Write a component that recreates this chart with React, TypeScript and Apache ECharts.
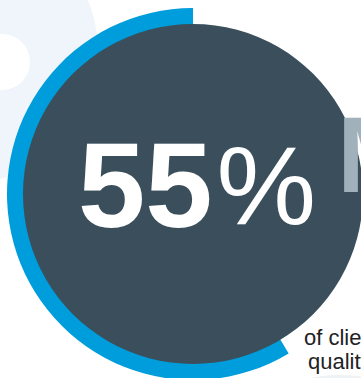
import React, { useEffect, useRef } from "react";
import * as echarts from "echarts";

// Data
const headlineValue = 55; // the printed figure, in percent
const ringCategories = ["share", "rest"];
const ringValues = [58.6, 41.4]; // share of the ring drawn in blue (as read from the arc)
const captionLines = ["of clients", "quality"];
const sideLetter = "M";

const FONT = "'Liberation Sans', Arial, Helvetica, sans-serif";
const BLUE = "#009ddc";
const DARK = "#3a4f5b";

export default function App() {
  const ref = useRef<HTMLDivElement>(null);

  useEffect(() => {
    if (!ref.current) return;
    const chart = echarts.init(ref.current, undefined, { renderer: "svg" });
    const cx = 193;
    const cy = 194;
    chart.setOption({
      animation: false,
      backgroundColor: "#ffffff",
      graphic: [
        { type: "circle", z: 0, shape: { cx: -35, cy: 51, r: 133 }, style: { fill: "#eff5fa" } },
        { type: "circle", z: 0, shape: { cx: 2, cy: 62, r: 28 }, style: { fill: "#ffffff" } },
        { type: "circle", z: 0, shape: { cx: 340, cy: 525, r: 150 }, style: { fill: "#eef2f5" } },
        {
          type: "text",
          z: 100,
          x: 78,
          y: 185,
          style: {
            text: `{a|${headlineValue}}{b|%}`,
            align: "left",
            verticalAlign: "middle",
            fill: "#ffffff",
            rich: {
              a: { fontSize: 121, fontWeight: "bold", fontFamily: FONT, fill: "#ffffff", lineHeight: 121 },
              b: { fontSize: 112, fontWeight: "normal", fontFamily: FONT, fill: "#ffffff", lineHeight: 121, padding: [0, 0, 0, 4] },
            },
          },
        },
        {
          type: "text",
          z: 100,
          x: 337,
          y: 155,
          style: {
            text: sideLetter,
            fontSize: 107,
            fontWeight: "bold",
            fontFamily: FONT,
            fill: "#a0b1bb",
            align: "left",
            verticalAlign: "middle",
          },
        },
        {
          type: "text",
          z: 100,
          x: 304,
          y: 337,
          style: { text: captionLines[0], fontSize: 22, fontFamily: FONT, fill: "#222222", align: "left", verticalAlign: "middle" },
        },
        {
          type: "text",
          z: 100,
          x: 308,
          y: 361,
          style: { text: captionLines[1], fontSize: 22, fontFamily: FONT, fill: "#222222", align: "left", verticalAlign: "middle" },
        },
      ],
      series: [
        {
          type: "pie",
          z: 2,
          silent: true,
          center: [cx, cy],
          radius: [165, 186],
          startAngle: 90,
          clockwise: false,
          label: { show: false },
          labelLine: { show: false },
          data: ringCategories.map((name, i) => ({
            name,
            value: ringValues[i],
            itemStyle: { color: i === 0 ? BLUE : "rgba(0,0,0,0)", borderWidth: 0 },
          })),
        },
        {
          type: "pie",
          z: 3,
          silent: true,
          center: [cx, cy],
          radius: [0, 170],
          label: { show: false },
          labelLine: { show: false },
          data: [{ name: "disc", value: 1, itemStyle: { color: DARK, borderWidth: 0 } }],
        },
      ],
    });
    return () => chart.dispose();
  }, []);

  return (
    <div
      ref={ref}
      style={{ position: "fixed", left: 0, top: 0, width: 361, height: 378 }}
    />
  );
}
